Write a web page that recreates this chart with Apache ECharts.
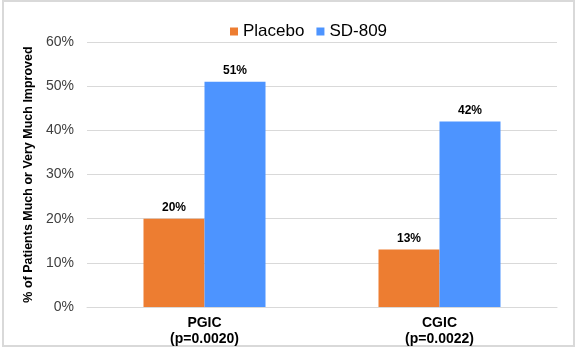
<!DOCTYPE html>
<html>
<head>
<meta charset="utf-8">
<script src="https://cdn.jsdelivr.net/npm/echarts@6/dist/echarts.min.js"></script>
<style>
  html, body { margin: 0; padding: 0; background: #fff; }
  #frame { position: absolute; left: 2px; top: 0; width: 573px; height: 347px; border: 2px solid #d9d9d9; box-sizing: border-box; }
  #chart { position: absolute; left: 0; top: 0; width: 580px; height: 352px; }
</style>
</head>
<body>
<div id="frame"></div>
<div id="chart"></div>
<script>
// 数据
const categories = ['PGIC\n(p=0.0020)', 'CGIC\n(p=0.0022)'];
const placeboValues = [20, 13];
const sd809Values = [51, 42];
const seriesNames = ['Placebo', 'SD-809'];

const font = 'Liberation Sans, Arial, sans-serif';

const chart = echarts.init(document.getElementById('chart'));

const barLabel = {
    show: true,
    position: 'top',
    formatter: '{c}%',
    fontFamily: font,
    fontSize: 12,
    fontWeight: 'bold',
    color: '#000'
};

const option = {
    animation: false,
    color: ['#ED7D31', '#4D94FF'],
    legend: {
        left: 225,
        top: 18,
        icon: 'rect',
        itemWidth: 8,
        itemHeight: 8,
        itemGap: 12,
        textStyle: { fontFamily: font, fontSize: 17, color: '#000' },
        data: seriesNames
    },
    grid: { left: 87, right: 23, top: 42, bottom: 45 },
    xAxis: {
        type: 'category',
        data: categories,
        axisLine: { lineStyle: { color: '#d9d9d9' } },
        axisTick: { show: false },
        axisLabel: {
            fontFamily: font,
            fontSize: 14,
            fontWeight: 'bold',
            color: '#000',
            lineHeight: 16,
            margin: 8
        }
    },
    yAxis: {
        type: 'value',
        min: 0,
        max: 60,
        interval: 10,
        name: '% of Patients Much or Very Much Improved',
        nameLocation: 'middle',
        nameGap: 50,
        nameTextStyle: { fontFamily: font, fontSize: 12.5, fontWeight: 'bold', color: '#000' },
        axisLine: { show: false },
        axisTick: { show: false },
        splitLine: { lineStyle: { color: '#d9d9d9' } },
        axisLabel: {
            formatter: '{value}%',
            fontFamily: font,
            fontSize: 14,
            color: '#404040',
            margin: 13
        }
    },
    series: [
        {
            name: seriesNames[0],
            type: 'bar',
            data: placeboValues,
            barWidth: 61,
            barGap: '0%',
            label: barLabel
        },
        {
            name: seriesNames[1],
            type: 'bar',
            data: sd809Values,
            barWidth: 61,
            label: barLabel
        }
    ]
};

chart.setOption(option);
</script>
</body>
</html>
